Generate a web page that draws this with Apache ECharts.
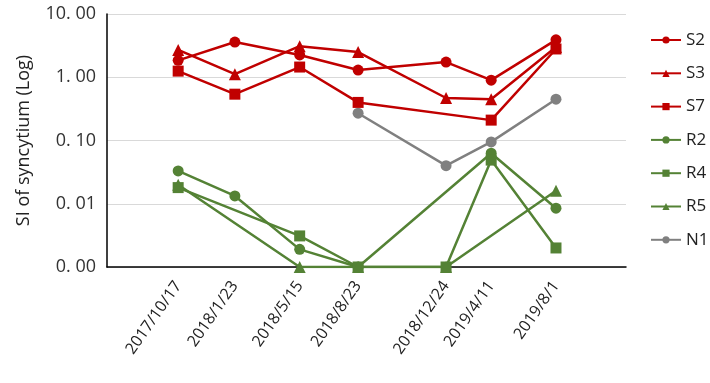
<!DOCTYPE html>
<html>
<head>
<meta charset="utf-8">
<script src="https://cdn.jsdelivr.net/npm/echarts@6/dist/echarts.min.js"></script>
<style>html,body{margin:0;padding:0;background:#fff}#c{width:710px;height:383px}</style>
</head>
<body>
<div id="c"></div>
<script>
// Category labels and their positions (days after 2017/10/17, as placed in the picture)
var categories = ['2017/10/17', '2018/1/23', '2018/5/15', '2018/8/23', '2018/12/24', '2019/4/11', '2019/8/1'];
var xDays = [0, 98, 210, 311, 463, 541, 653];
var yTickLabels = ['0. 00', '0. 01', '0. 10', '1. 00', '10. 00'];
var yTickValues = [0.001, 0.01, 0.1, 1, 10];

var S2 = [1.85, 3.6, 2.25, 1.3, 1.74, 0.9, 3.9];
var S3 = [2.7, 1.12, 3.1, 2.5, 0.47, 0.45, 3.0];
var S7 = [1.25, 0.54, 1.45, 0.4, null, 0.21, 2.8];
var R2 = [0.033, 0.0133, 0.0019, 0.001, null, 0.063, 0.0085];
var R4 = [0.018, null, 0.0031, 0.001, 0.001, 0.049, 0.002];
var R5 = [0.02, null, 0.001, 0.001, 0.001, null, 0.016];
var N1 = [null, null, null, 0.27, 0.04, 0.095, 0.45];

var RED = '#C00000', GREEN = '#548235', GRAY = '#808080';

function pairs(vals) {
  var out = [];
  for (var i = 0; i < vals.length; i++) if (vals[i] != null) out.push([xDays[i], vals[i]]);
  return out;
}
function mk(name, vals, color, symbol, size) {
  return {
    name: name, type: 'line', data: pairs(vals), symbol: symbol, symbolSize: size,
    lineStyle: { color: color, width: 2.5 }, itemStyle: { color: color },
    emphasis: { disabled: true }, animation: false
  };
}

var chart = echarts.init(document.getElementById('c'), null, { renderer: 'canvas' });
chart.setOption({
  animation: false,
  textStyle: { fontFamily: 'Open Sans' },
  grid: { left: 107, right: 84, top: 14, bottom: 116, containLabel: false },
  legend: {
    orient: 'vertical', left: 645, top: 25, itemWidth: 30, itemHeight: 9, itemGap: 13.3,
    textStyle: { fontSize: 17, color: '#222', fontFamily: 'Open Sans', lineHeight: 20 },
    data: ['S2', 'S3', 'S7', 'R2', 'R4', 'R5', 'N1']
  },
  xAxis: {
    type: 'value', min: -123, max: 774,
    splitLine: { show: false },
    axisLine: { onZero: false, lineStyle: { color: '#000', width: 1.5 } },
    axisTick: { show: false },
    axisLabel: {
      customValues: xDays, rotate: 55, margin: 16, fontSize: 16, color: '#222',
      formatter: function (v) { var i = xDays.indexOf(v); return i >= 0 ? categories[i] : ''; }
    }
  },
  yAxis: {
    type: 'log', logBase: 10, min: 0.001, max: 10,
    name: 'SI of syncytium (Log)', nameLocation: 'middle', nameGap: 74,
    nameTextStyle: { fontSize: 18, color: '#222' },
    axisLine: { show: true, onZero: false, lineStyle: { color: '#000', width: 1.5 } },
    axisTick: { show: false },
    splitLine: { show: true, lineStyle: { color: '#d9d9d9', width: 1.2 } },
    axisLabel: {
      fontSize: 18, color: '#333', margin: 11,
      formatter: function (v) {
        for (var i = 0; i < yTickValues.length; i++) if (Math.abs(Math.log10(v) - Math.log10(yTickValues[i])) < 1e-6) return yTickLabels[i];
        return '';
      }
    }
  },
  series: [
    mk('R2', R2, GREEN, 'circle', 11),
    mk('R4', R4, GREEN, 'rect', 11),
    mk('R5', R5, GREEN, 'triangle', 12),
    mk('N1', N1, GRAY, 'circle', 11),
    mk('S2', S2, RED, 'circle', 11),
    mk('S3', S3, RED, 'triangle', 12),
    mk('S7', S7, RED, 'rect', 11)
  ]
});
</script>
</body>
</html>
